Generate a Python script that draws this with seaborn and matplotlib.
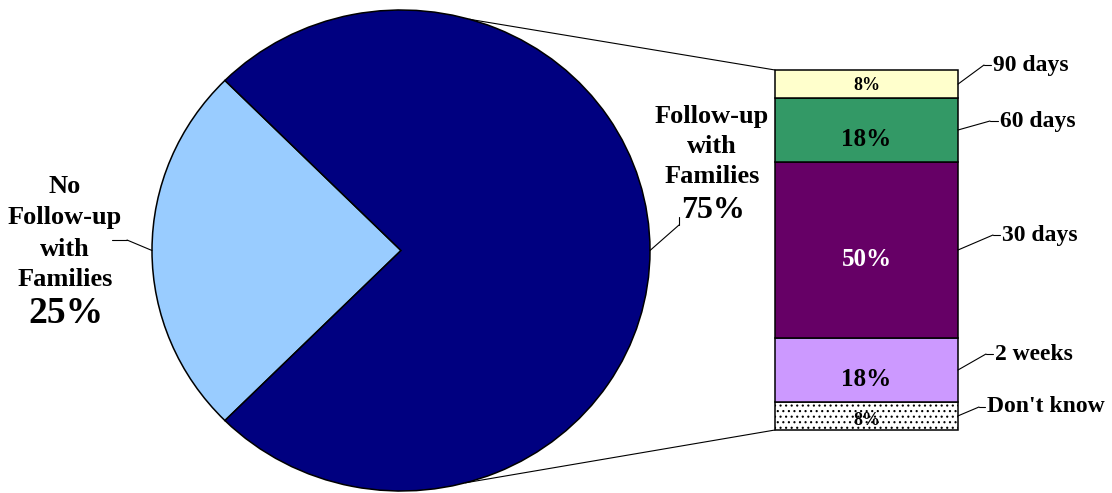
import numpy as np
import pandas as pd
import matplotlib
matplotlib.use("Agg")
import matplotlib.pyplot as plt
from matplotlib.patches import ConnectionPatch
from matplotlib.lines import Line2D
import seaborn as sns

# ---- data ----
pie_names = ["No Follow-up with Families", "Follow-up with Families"]
pie_values = [25, 75]
pie_colors = ["#99CCFF", "#000080"]

stack_names = ["Don't know", "2 weeks", "30 days", "60 days", "90 days"]
stack_values = [8, 18, 50, 18, 8]
stack_colors = ["#FFFFFF", "#CC99FF", "#660066", "#339966", "#FFFFCC"]
stack_text_colors = ["black", "black", "white", "black", "black"]
stack_hatches = ["...", None, None, None, None]

# ---- style ----
sns.set_theme(style="white")
plt.rcParams["font.family"] = ["Liberation Serif", "DejaVu Serif"]
plt.rcParams["font.weight"] = "bold"
plt.rcParams["text.color"] = "black"
plt.rcParams["hatch.color"] = "#555555"
plt.rcParams["hatch.linewidth"] = 0.8

W, H = 1112, 493
fig = plt.figure(figsize=(W / 100, H / 100), dpi=100, facecolor="white")


def fig_xy(x, y):
    """Pixel position measured from the top-left corner -> figure fraction."""
    return (x / W, 1 - y / H)


def fig_line(p0, p1, lw=0.8):
    a, b = fig_xy(*p0), fig_xy(*p1)
    fig.add_artist(Line2D([a[0], b[0]], [a[1], b[1]], transform=fig.transFigure,
                          color="black", lw=lw))


# ---- pie of the two groups ----
ax_pie = fig.add_axes([152 / W, (H - 491) / H, 498 / W, 481 / H])
wedges, _ = ax_pie.pie(pie_values, colors=pie_colors, startangle=135,
                       counterclock=True,
                       wedgeprops=dict(edgecolor="black", linewidth=1.1))
for w in wedges:
    w.set_clip_on(False)
ax_pie.set_aspect("auto")
ax_pie.set_xlim(-1, 1)
ax_pie.set_ylim(-1, 1)
ax_pie.axis("off")

# mid-angle of each wedge, used for the label leaders
angles = np.cumsum([0] + pie_values) / sum(pie_values) * 360 + 135
mids = [(angles[i] + angles[i + 1]) / 2 for i in range(len(pie_values))]

# ---- stacked bar breaking down the follow-up slice ----
ax_bar = fig.add_axes([775 / W, (H - 430) / H, 183 / W, 360 / H])
bottom = 0
for name, v, c, h in zip(stack_names, stack_values, stack_colors, stack_hatches):
    sns.barplot(x=["Follow-up"], y=[v], bottom=bottom, color=c, saturation=1,
                width=0.8, errorbar=None, edgecolor="black", linewidth=1.1,
                hatch=h, ax=ax_bar)
    bottom += v
for p in ax_bar.patches:
    p.set_clip_on(False)
total = sum(stack_values)
ax_bar.set_xlim(-0.4, 0.4)
ax_bar.set_ylim(0, total)
ax_bar.axis("off")

# value labels inside the segments
value_sizes = [13, 18, 18, 18, 13]
value_shift = [-3, -7, -7, -7, -1]
cum = np.cumsum([0] + stack_values)
for i, v in enumerate(stack_values):
    mid = (cum[i] + cum[i + 1]) / 2
    ax_bar.annotate(f"{v}%", xy=(0, mid), xytext=(0, value_shift[i]),
                    textcoords="offset points", ha="center", va="center",
                    fontsize=value_sizes[i], fontweight="bold",
                    color=stack_text_colors[i])

# category labels to the right of the bar, with elbow leaders
label_elbow = [(979, 407), (986, 354), (993, 235), (990, 121), (984, 65)]
label_end = [(985, 407), (993, 354), (1000, 235), (998, 121), (991, 65)]
for i, name in enumerate(stack_names):
    mid = (cum[i] + cum[i + 1]) / 2
    con = ConnectionPatch(xyA=(0.4, mid), coordsA=ax_bar.transData,
                          xyB=fig_xy(*label_elbow[i]), coordsB=fig.transFigure,
                          color="black", lw=0.8)
    fig.add_artist(con)
    fig_line(label_elbow[i], label_end[i])
    tx, ty = fig_xy(label_end[i][0] + 2, label_end[i][1])
    fig.text(tx, ty, name, ha="left", va="center", fontsize=17,
             fontweight="bold")

# series lines from the pie to the bar
for ang, ybar in [(74, total), (-75, 0)]:
    t = np.deg2rad(ang)
    con = ConnectionPatch(xyA=(np.cos(t), np.sin(t)), coordsA=ax_pie.transData,
                          xyB=(-0.4, ybar), coordsB=ax_bar.transData,
                          color="black", lw=0.8)
    fig.add_artist(con)

# pie slice labels
left_lines = ["No", "Follow-up", "with", "Families"]
left_base = [193, 224, 256, 286]
for txt, yb in zip(left_lines, left_base):
    fig.text(*fig_xy(65, yb), txt, ha="center", va="baseline", fontsize=19,
             fontweight="bold")
fig.text(*fig_xy(66, 323), f"{pie_values[0]}%", ha="center", va="baseline",
         fontsize=27, fontweight="bold")

right_lines = ["Follow-up", "with", "Families"]
right_base = [123, 153, 183]
for txt, yb in zip(right_lines, right_base):
    fig.text(*fig_xy(712, yb), txt, ha="center", va="baseline", fontsize=19,
             fontweight="bold")
fig.text(*fig_xy(713, 218), f"{pie_values[1]}%", ha="center", va="baseline",
         fontsize=23, fontweight="bold")

# leaders from the labels to the wedges
for mid_ang, elbow, end in [(mids[0], (127, 240), (112, 240)),
                            (mids[1], (679, 225), (679, 217))]:
    t = np.deg2rad(mid_ang)
    con = ConnectionPatch(xyA=(np.cos(t), np.sin(t)), coordsA=ax_pie.transData,
                          xyB=fig_xy(*elbow), coordsB=fig.transFigure,
                          color="black", lw=0.8)
    fig.add_artist(con)
    fig_line(elbow, end)

fig.savefig("out.png", dpi=100, facecolor="white")
